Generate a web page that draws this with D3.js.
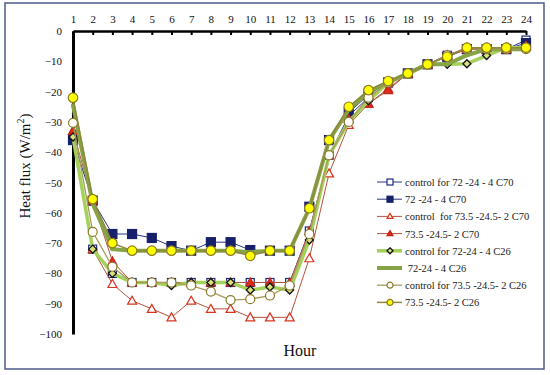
<!DOCTYPE html>
<meta charset="UTF-8">
<style>
body { margin: 0; background: #fff; }
</style>
<body>
<script src="https://d3js.org/d3.v7.min.js"></script>
<script>

// hours 1..24
var hours = d3.range(1, 25);

var seriesNames = [
  "control for 72 -24 - 4 C70",
  "72 -24 - 4 C70",
  "control  for 73.5 -24.5- 2 C70",
  "73.5 -24.5- 2 C70",
  "control for 72-24 - 4 C26",
  " 72-24 - 4 C26",
  "control for 73.5 -24.5- 2 C26",
  "73.5 -24.5- 2 C26"
];

var ctrl72C70 = [-36, -72, -80, -83, -83, -83, -83, -83, -83, -83, -83, -83, -66, -41, -28, -22, -17, -14, -11, -8, -6, -6, -6, -3];
var t72C70    = [-36, -56, -67, -67, -68.3, -71, -72.5, -69.7, -69.7, -72.3, -72.5, -72.5, -58, -36, -27, -21, -17, -14, -11, -8.5, -6, -6, -6, -4];
var ctrl73C70 = [-33, -72, -83.5, -89, -91.7, -94.5, -89, -91.7, -91.7, -94.5, -94.5, -94.5, -75, -47, -31, -24, -19, -14, -11, -8, -6, -6, -6, -5];
var t73C70    = [-33, -56, -76, -83, -83, -83, -83, -83, -83, -83, -83, -83, -66, -41, -29, -24, -19.5, -14, -11, -8, -5.5, -5.5, -5.5, -5];
var ctrl72C26 = [-35, -72, -80, -83, -83, -84, -83, -83, -83, -85.5, -84.5, -85.5, -69, -41, -30, -23, -17, -14, -11, -11, -10.8, -8.1, -5.5, -5.5];
var t72C26    = [-24.5, -57, -72, -72.5, -72.5, -72.5, -72.5, -72.5, -72.5, -73, -72.5, -72.5, -58.5, -36, -26, -20, -17, -14, -11, -11, -8, -6, -6, -6];
var ctrl73C26 = [-30.3, -66.3, -77.8, -83, -83, -83, -84, -86, -88.8, -88.5, -87.3, -84, -67, -41, -30, -22, -17, -14, -11, -8, -6, -6, -6, -6];
var t73C26    = [-22, -55.5, -70, -72.5, -72.5, -72.5, -72.5, -72.5, -72.5, -74.2, -72.5, -72.5, -58.5, -36, -25, -19.5, -16.5, -14, -11, -8.5, -5.5, -5.5, -5.5, -5.5];

var yTicks = d3.range(0, -101, -10);

var allValues = [ctrl72C70, t72C70, ctrl73C70, t73C70, ctrl72C26, t72C26, ctrl73C26, t73C26];

// line colour, width, marker shape, marker fill, marker stroke, marker size
var styles = [
  {line: "#2b3580", w: 1,   shape: "square",   fill: "#fff",    stroke: "#1f2a78", s: 8},
  {line: "#2b3580", w: 1,   shape: "square",   fill: "#16206b", stroke: "#16206b", s: 9},
  {line: "#b5533c", w: 1,   shape: "triangle", fill: "#fff",    stroke: "#d8351f", s: 9},
  {line: "#b5533c", w: 1,   shape: "triangle", fill: "#e02a1a", stroke: "#c0241a", s: 9},
  {line: "#a3d15a", w: 3.5, shape: "diamond",  fill: "#d8e07a", stroke: "#111",    s: 8},
  {line: "#86a447", w: 4,   shape: "dot",      fill: "#86a447", stroke: "#86a447", s: 3},
  {line: "#a89a5a", w: 1.3, shape: "circle",   fill: "#fff",    stroke: "#8a7a2a", s: 9},
  {line: "#8e8a3a", w: 1.5, shape: "circle",   fill: "#ffff00", stroke: "#8a7a20", s: 9.5}
];

var W = 550, H = 375;
var serif = "'Liberation Serif', 'Times New Roman', 'DejaVu Serif', serif";

var svg = d3.select("body").append("svg")
    .attr("width", W)
    .attr("height", H)
    .attr("font-family", serif);

// outer frame
svg.append("rect")
    .attr("x", 5).attr("y", 3)
    .attr("width", 539).attr("height", 366)
    .attr("fill", "#fff")
    .attr("stroke", "#4d5b8c")
    .attr("stroke-width", 1.5);

var x = d3.scaleLinear().domain([1, 24]).range([73, 526]);
var y = d3.scaleLinear().domain([0, -100]).range([31, 334]);

// x axis along the top
var xAxis = svg.append("g")
    .attr("transform", "translate(0," + y(0) + ")")
    .call(d3.axisTop(x).tickValues(hours).tickFormat(d3.format("d"))
      .tickSizeInner(-4).tickSizeOuter(0).tickPadding(8));
xAxis.attr("font-family", serif).attr("font-size", 11);
xAxis.select(".domain").attr("stroke", "#000").attr("stroke-width", 2.5);
xAxis.selectAll(".tick line").attr("stroke", "#000").attr("stroke-width", 2);
xAxis.selectAll("text").attr("fill", "#111");

// y axis
var yAxis = svg.append("g")
    .attr("transform", "translate(" + x(1) + ",0)")
    .call(d3.axisLeft(y).tickValues(yTicks).tickSize(0).tickPadding(11));
yAxis.attr("font-family", serif).attr("font-size", 11);
yAxis.select(".domain").attr("stroke", "#000").attr("stroke-width", 3);
yAxis.selectAll("text").attr("fill", "#111");

// axis titles
var ytitle = svg.append("text")
    .attr("transform", "translate(30," + 166 + ") rotate(-90)")
    .attr("text-anchor", "middle")
    .attr("font-size", 15)
    .attr("fill", "#111");
ytitle.append("tspan").text("Heat flux (W/m");
ytitle.append("tspan").attr("font-size", 10).attr("dy", -6).text("2");
ytitle.append("tspan").attr("dy", 6).text(")");

svg.append("text")
    .attr("x", 300).attr("y", 356)
    .attr("text-anchor", "middle")
    .attr("font-size", 16)
    .attr("fill", "#111")
    .text("Hour");

function marker(g, st) {
  var s = st.s;
  if (st.shape === "square") {
    g.append("rect").attr("x", -s / 2).attr("y", -s / 2).attr("width", s).attr("height", s)
      .attr("fill", st.fill).attr("stroke", st.stroke).attr("stroke-width", 1.2);
  } else if (st.shape === "triangle") {
    g.append("path").attr("d", "M0," + (-s / 2) + "L" + (s / 2) + "," + (s / 2 - 1) + "L" + (-s / 2) + "," + (s / 2 - 1) + "Z")
      .attr("fill", st.fill).attr("stroke", st.stroke).attr("stroke-width", 1.2);
  } else if (st.shape === "diamond") {
    g.append("path").attr("d", "M0," + (-s / 2) + "L" + (s / 2) + ",0L0," + (s / 2) + "L" + (-s / 2) + ",0Z")
      .attr("fill", st.fill).attr("stroke", st.stroke).attr("stroke-width", 1.3);
  } else {
    g.append("circle").attr("r", s / 2)
      .attr("fill", st.fill).attr("stroke", st.stroke).attr("stroke-width", 1.2);
  }
}

var line = d3.line()
    .x(function(d, i) { return x(hours[i]); })
    .y(function(d) { return y(d); });

allValues.forEach(function(vals, k) {
  var st = styles[k];
  var g = svg.append("g");
  g.append("path")
      .attr("d", line(vals))
      .attr("fill", "none")
      .attr("stroke", st.line)
      .attr("stroke-width", st.w);
  g.selectAll("g.pt")
    .data(vals)
    .enter().append("g")
      .attr("class", "pt")
      .attr("transform", function(d, i) { return "translate(" + x(hours[i]) + "," + y(d) + ")"; })
      .each(function() { marker(d3.select(this), st); });
});

// legend
var legend = svg.append("g");
seriesNames.forEach(function(name, k) {
  var st = styles[k];
  var ly = 182 + k * 17.2;
  var lg = legend.append("g").attr("transform", "translate(377," + ly + ")");
  lg.append("line").attr("x1", 0).attr("x2", 25).attr("y1", 0).attr("y2", 0)
    .attr("stroke", st.line).attr("stroke-width", st.w);
  var ms = Object.assign({}, st, {s: st.shape === "dot" ? 3 : 6});
  var mg = lg.append("g").attr("transform", "translate(13,0)");
  marker(mg, ms);
  lg.append("text").attr("x", 28).attr("y", 4)
    .attr("font-size", 10.5).attr("fill", "#222")
    .attr("xml:space", "preserve")
    .style("white-space", "pre")
    .text(name);
});

</script>
</body>
